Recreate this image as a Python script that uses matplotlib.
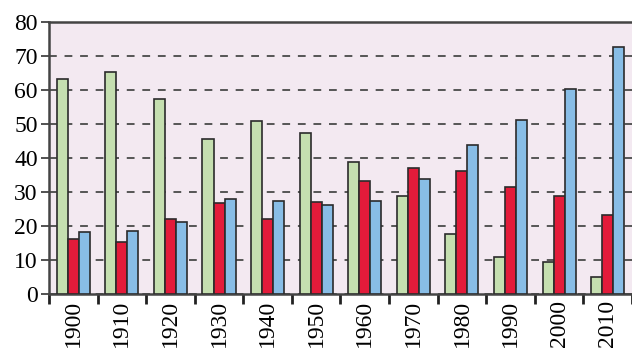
import numpy as np
import matplotlib.pyplot as plt
from matplotlib.ticker import FixedLocator

years = ["1900", "1910", "1920", "1930", "1940", "1950",
         "1960", "1970", "1980", "1990", "2000", "2010"]
green = [63.2, 65.4, 57.5, 45.6, 50.8, 47.5, 38.7, 28.8, 17.6, 10.8, 9.5, 4.9]
red = [16.1, 15.3, 22.0, 26.7, 22.0, 27.2, 33.2, 37.2, 36.1, 31.4, 28.7, 23.1]
blue = [18.1, 18.6, 21.1, 27.9, 27.5, 26.1, 27.3, 33.7, 43.8, 51.2, 60.4, 72.7]

plt.rcParams['font.family'] = ['Liberation Serif', 'DejaVu Serif']

fig = plt.figure(figsize=(6.32, 3.51), dpi=100)
ax = fig.add_axes([0.0775, 0.1624, 0.9225, 0.7749])
ax.set_facecolor("#f3e9f1")

x = np.arange(len(years))
w = 0.227
edge = dict(edgecolor="#2b2b2b", linewidth=1.2, zorder=3)
ax.bar(x - w, green, w, color="#c5dfb0", **edge)
ax.bar(x, red, w, color="#e31b3a", **edge)
ax.bar(x + w, blue, w, color="#88bde6", **edge)

ax.set_xlim(-0.5, len(years) - 0.5)
ax.set_ylim(0, 80)

ax.set_yticks(range(0, 81, 10))
ax.yaxis.grid(True, linestyle=(0, (4, 4)), color="#555555", linewidth=1.4, zorder=1)
ax.set_axisbelow(True)
ax.tick_params(axis="y", direction="out", length=6, width=1.2, color="#333333",
               labelsize=17, pad=2)

ax.set_xticks(x)
ax.set_xticklabels(years, rotation=90)
ax.tick_params(axis="x", which="major", length=0, labelsize=17, pad=4)
ax.xaxis.set_minor_locator(FixedLocator(np.arange(-0.5, len(years) - 0.4, 1.0)))
ax.tick_params(axis="x", which="minor", direction="out", length=7, width=2, color="#222222")

for side in ["left", "top", "bottom"]:
    ax.spines[side].set_color("#444444")
    ax.spines[side].set_linewidth(1.8)
ax.spines["right"].set_visible(False)

fig.savefig("out.png", dpi=100)
